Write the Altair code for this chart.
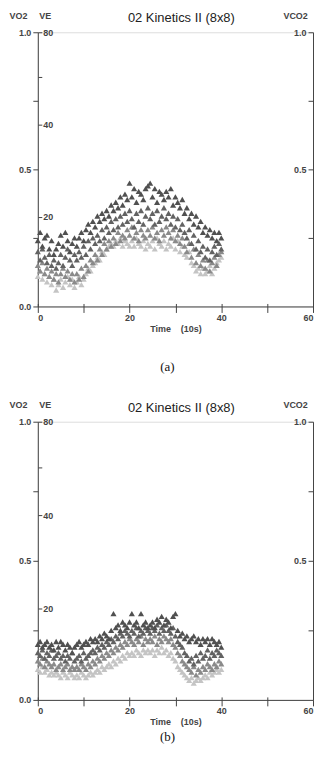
import altair as alt
import pandas as pd

# ---- data (time in 10 s units, values on VO2 scale) ----
TIME = [i / 2 for i in range(81)]  # sample times 0 .. 40

# panel (a)
A1 = [.24, .27, .22, .25, .26, .21, .24, .19, .21,
      .23, .26, .22, .27, .24, .20, .23, .25,
      .22, .25, .27, .24, .28, .30, .27, .31,
      .29, .33, .31, .34, .32, .35, .33, .37,
      .35, .38, .36, .40, .37, .41, .39, .45,
      .40, .43, .38, .42, .41, .39, .43, .44,
      .45, .40, .43, .38, .42, .41, .39, .42,
      .40, .43, .37, .40, .38, .36, .39, .34,
      .36, .32, .34, .30, .33, .29, .31, .27,
      .29, .26, .28, .25, .27, .24, .27, .25]
A2 = [.20, .17, .21, .18, .16, .19, .15, .17, .14,
      .16, .19, .15, .18, .21, .17, .15, .19,
      .17, .20, .18, .22, .19, .24, .21, .25,
      .23, .26, .24, .28, .25, .29, .27, .31,
      .28, .32, .29, .33, .30, .34, .31, .35,
      .32, .29, .34, .31, .35, .30, .33, .36,
      .32, .34, .30, .35, .31, .33, .36, .32,
      .34, .30, .33, .29, .32, .28, .30, .27,
      .25, .28, .23, .26, .21, .24, .20, .22,
      .18, .21, .17, .20, .22, .19, .23, .21]
A3 = [.15, .13, .16, .12, .14, .11, .13, .10, .12,
      .09, .12, .14, .11, .13, .10, .12, .09,
      .12, .10, .14, .11, .15, .13, .17, .16,
      .19, .17, .21, .19, .23, .21, .24, .22,
      .25, .23, .27, .24, .26, .25, .28, .26,
      .29, .25, .27, .24, .28, .26, .25, .28,
      .26, .29, .25, .27, .24, .28, .26, .29,
      .27, .25, .28, .24, .26, .23, .25, .22,
      .20, .23, .18, .21, .16, .19, .15, .17,
      .14, .17, .13, .16, .18, .15, .19, .20]
A4 = [.11, .13, .10, .12, .09, .11, .08, .10, .06,
      .08, .10, .07, .09, .11, .08, .10, .07,
      .09, .11, .08, .10, .12, .14, .13, .15,
      .16, .18, .17, .20, .19, .21, .22, .23,
      .22, .24, .23, .25, .22, .24, .23, .22,
      .24, .22, .25, .23, .22, .24, .21, .23,
      .22, .24, .21, .25, .23, .22, .24, .21,
      .23, .22, .25, .21, .24, .20, .22, .19,
      .18, .20, .16, .15, .13, .14, .12, .14,
      .12, .13, .15, .12, .14, .16, .17, .18]

# panel (b)
B1 = [.20, .21, .19, .20, .21, .19, .20, .18, .21,
      .19, .21, .20, .18, .20, .19, .17, .19,
      .20, .21, .19, .20, .21, .20, .22, .21,
      .22, .21, .23, .22, .24, .23, .22, .25,
      .31, .26, .27, .25, .28, .27, .26, .28,
      .31, .27, .28, .26, .31, .27, .28, .26,
      .27, .28, .26, .29, .28, .30, .27, .29,
      .28, .26, .30, .31, .25, .23, .24, .22,
      .23, .21, .22, .23, .21, .22, .20, .22,
      .21, .22, .20, .22, .21, .20, .21, .19]
B2 = [.17, .16, .18, .15, .17, .16, .18, .15, .16,
      .17, .15, .16, .14, .16, .15, .17, .14,
      .15, .16, .14, .17, .15, .16, .17, .18,
      .17, .19, .18, .20, .19, .21, .20, .22,
      .21, .23, .22, .24, .23, .25, .24, .23,
      .25, .24, .26, .23, .25, .24, .26, .25,
      .24, .26, .25, .27, .24, .26, .25, .27,
      .25, .24, .26, .23, .21, .20, .19, .17,
      .16, .14, .15, .13, .16, .14, .17, .15,
      .16, .18, .15, .17, .16, .18, .17, .16]
B3 = [.14, .13, .15, .12, .14, .13, .12, .13, .11,
      .12, .13, .11, .12, .13, .11, .12, .11,
      .12, .11, .13, .12, .11, .13, .12, .14,
      .13, .15, .14, .16, .15, .17, .16, .18,
      .17, .19, .18, .20, .19, .21, .20, .22,
      .21, .20, .22, .21, .23, .20, .22, .21,
      .22, .21, .23, .20, .22, .21, .23, .22,
      .21, .22, .20, .19, .17, .16, .14, .13,
      .12, .11, .10, .12, .09, .11, .10, .12,
      .11, .13, .12, .11, .13, .12, .14, .13]
B4 = [.11, .10, .12, .10, .11, .09, .10, .09, .10,
      .09, .08, .10, .09, .08, .10, .09, .08,
      .09, .08, .10, .09, .08, .09, .10, .09,
      .10, .11, .10, .12, .11, .12, .13, .12,
      .14, .13, .15, .14, .16, .15, .17, .16,
      .17, .16, .18, .17, .16, .18, .17, .18,
      .17, .18, .16, .18, .17, .19, .17, .18,
      .16, .17, .15, .14, .12, .11, .10, .09,
      .08, .07, .08, .06, .07, .08, .07, .08,
      .09, .08, .10, .09, .10, .11, .10, .11]

SERIES = ["light", "gray", "mid", "dark"]          # drawing order
COLORS = ["#c4c4c4", "#8a8a8a", "#626262", "#505050"]

X_TICKS = [0, 10, 20, 30, 40, 50, 60]
VO2_TICKS = [0, 0.25, 0.5, 0.75, 1.0]
VE_TICKS = [80, 57, 40, 20]
VCO2_TICKS = [0.25, 0.5, 0.75, 1.0]
TITLE = "02 Kinetics II (8x8)"
CAPTIONS = ["(a)", "(b)"]

W = 277
FONT = "Liberation Sans"
AX = "#444444"

axis_style = dict(labelFont=FONT, labelFontSize=9, labelFontWeight="bold", labelColor=AX,
                  titleFont=FONT, titleFontSize=9, titleFontWeight="bold", titleColor=AX,
                  tickColor=AX, domainColor=AX, grid=False)


def make_df(series_list):
    rows = []
    for k, (name, vals) in enumerate(zip(SERIES, series_list)):
        for t, v in zip(TIME, vals):
            rows.append({"t": t, "v": v, "s": name, "k": k})
    return pd.DataFrame(rows)


def panel(series_list, h):
    df = make_df(series_list)
    xscale = alt.Scale(domain=[0, 60], nice=False, zero=False)
    pts = alt.Chart(df).mark_point(shape="triangle-up", filled=True, size=38, opacity=1).encode(
        x=alt.X("t:Q", scale=xscale,
                axis=alt.Axis(values=X_TICKS,
                              labelExpr="datum.value % 20 == 0 ? datum.label : ''",
                              title="Time\u00a0\u00a0\u00a0\u00a0(10s)", tickSize=6,
                              labelPadding=1, titlePadding=2, **axis_style)),
        y=alt.Y("v:Q", scale=alt.Scale(domain=[0, 1], nice=False),
                axis=alt.Axis(orient="left", values=VO2_TICKS,
                              labelExpr="datum.value == 0.25 || datum.value == 0.75 ? '' : format(datum.value, '.1f')",
                              title="VO2", titleAngle=0, titleX=-20, titleY=-12,
                              titleAlign="center", titleBaseline="bottom",
                              tickSize=5, labelPadding=2, **axis_style)),
        color=alt.Color("s:N", scale=alt.Scale(domain=SERIES, range=COLORS), legend=None),
        order=alt.Order("k:Q"),
    )
    ve = alt.Chart(pd.DataFrame({"ve": VE_TICKS, "t": [0, 0, 0, 0]})).mark_point(opacity=0).encode(
        x=alt.X("t:Q", scale=xscale,
                axis=alt.Axis(orient="top", offset=-h, values=X_TICKS, labels=False,
                              domain=False, title=None, tickSize=3, **axis_style)),
        y=alt.Y("ve:Q", scale=alt.Scale(type="log", domain=[10.2, 80], nice=False),
                axis=alt.Axis(orient="right", offset=-W, values=VE_TICKS,
                              labelExpr="datum.value == 57 ? '' : datum.label",
                              domain=False, title="VE", titleAngle=0, titleX=7, titleY=-12,
                              titleAlign="center", titleBaseline="bottom",
                              tickSize=4, labelPadding=1, **axis_style)),
    )
    vc = alt.Chart(pd.DataFrame({"vc": [0, 1]})).mark_point(opacity=0).encode(
        y=alt.Y("vc:Q", scale=alt.Scale(domain=[0, 1], nice=False),
                axis=alt.Axis(orient="left", offset=-W, values=VCO2_TICKS,
                              labelExpr="datum.value == 1 || datum.value == 0.5 ? format(datum.value, '.1f') : ''",
                              title="VCO2", titleAngle=0, titleX=-18, titleY=-12,
                              titleAlign="center", titleBaseline="bottom",
                              tickSize=5, labelPadding=2, **axis_style)),
    )
    return (alt.layer(pts, ve, vc)
            .resolve_scale(y="independent")
            .resolve_axis(x="independent", y="independent")
            .properties(width=W, height=h,
                        title=alt.TitleParams(TITLE, font=FONT, fontSize=13, fontWeight="normal",
                                              color="#222222", anchor="middle", offset=-14, dx=6)))


def caption(text, h):
    return alt.Chart(pd.DataFrame({"c": [text]})).mark_text(
        font="Liberation Serif", fontSize=13, color="#111111", dx=-8
    ).encode(text="c:N").properties(width=W, height=h)


chart = alt.vconcat(
    panel([A4, A3, A2, A1], 276),
    caption(CAPTIONS[0], 66),
    panel([B4, B3, B2, B1], 280),
    caption(CAPTIONS[1], 18),
    spacing=0,
).properties(padding={"left": 0, "top": 0, "right": 0, "bottom": 0}
).configure_view(stroke=None).configure(background="white")

chart.save("out.html", embed_options={"renderer": "svg", "actions": False})
